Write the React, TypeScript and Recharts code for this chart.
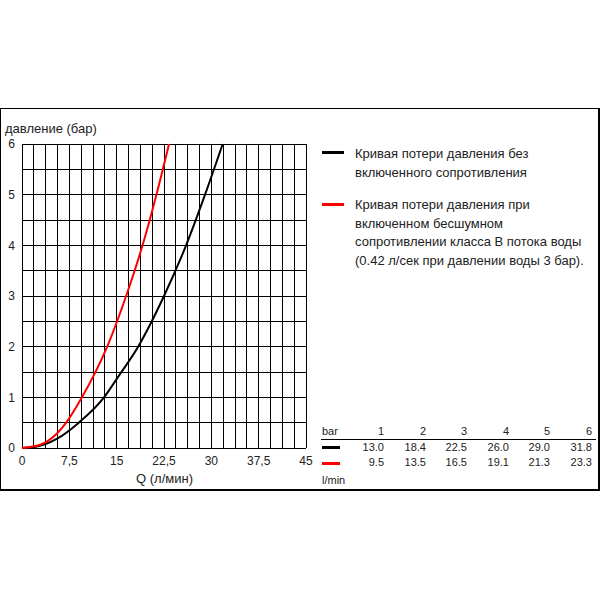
import React from "react";
import { LineChart, Line, XAxis, YAxis, CartesianGrid } from "recharts";

// pressure steps (bar) and flow rates (l/min) from the table
const pressures = [1, 2, 3, 4, 5, 6];
const flowPlain = [13.0, 18.4, 22.5, 26.0, 29.0, 31.8];
const flowSilent = [9.5, 13.5, 16.5, 19.1, 21.3, 23.3];

const lowPlain = [
  { q: 0, p: 0 },
  { q: 2, p: 0.02 },
  { q: 5.5, p: 0.18 },
  { q: 9, p: 0.5 },
  { q: 15.2, p: 1.4 },
];
const lowSilent = [
  { q: 0, p: 0 },
  { q: 3, p: 0.07 },
  { q: 5.5, p: 0.28 },
  { q: 7, p: 0.5 },
];

const xTicks = [0, 7.5, 15, 22.5, 30, 37.5, 45];
const yTicks = [0, 1, 2, 3, 4, 5, 6];
const xGrid = Array.from({ length: 25 }, (_, i) => i * 1.875);
const yGrid = Array.from({ length: 13 }, (_, i) => i * 0.5);

const build = (low, flows) =>
  [...low, ...flows.map((q, i) => ({ q, p: pressures[i] }))].sort((a, b) => a.q - b.q);

const plainData = build(lowPlain, flowPlain);
const silentData = build(lowSilent, flowSilent);

const font = "'Liberation Sans', Arial, sans-serif";
const textColor = "#222";
const colRight = [384, 426, 467, 509, 550, 592];

export default function App() {
  const tick = { fontSize: 12, fill: textColor, fontFamily: font };
  return (
    <div
      style={{
        position: "absolute",
        left: 0,
        top: 0,
        width: 600,
        height: 600,
        background: "#fff",
        fontFamily: font,
        color: textColor,
      }}
    >
      <style>{".recharts-cartesian-grid line{shape-rendering:crispEdges}"}</style>
      <div
        style={{
          position: "absolute",
          left: 0,
          top: 108,
          width: 597,
          height: 380,
          border: "1px solid #000",
          borderRightWidth: 2,
          borderBottomWidth: 2,
        }}
      />
      <div style={{ position: "absolute", left: 5, top: 121, fontSize: 13 }}>давление (бар)</div>
      <div style={{ position: "absolute", left: 136, top: 471, fontSize: 13 }}>Q (л/мин)</div>

      <LineChart
        width={600}
        height={600}
        margin={{ top: 144, right: 294, bottom: 0, left: 0 }}
        style={{ position: "absolute", left: 0, top: 0 }}
      >
        <CartesianGrid
          stroke="#000"
          strokeWidth={1}
          horizontalValues={yGrid}
          verticalValues={xGrid}
        />
        <XAxis
          type="number"
          dataKey="q"
          domain={[0, 45]}
          ticks={xTicks}
          tickFormatter={(v) => String(v).replace(".", ",")}
          axisLine={false}
          tickLine={false}
          tickSize={0}
          tickMargin={8}
          tick={tick}
          height={152}
          interval={0}
        />
        <YAxis
          type="number"
          dataKey="p"
          domain={[0, 6]}
          ticks={yTicks}
          axisLine={false}
          tickLine={false}
          tickSize={0}
          tickMargin={7}
          tick={tick}
          width={22}
          interval={0}
        />
        <Line
          data={plainData}
          dataKey="p"
          type="monotone"
          stroke="#000"
          strokeWidth={2}
          dot={false}
          isAnimationActive={false}
        />
        <Line
          data={silentData}
          dataKey="p"
          type="monotone"
          stroke="#ff0000"
          strokeWidth={2}
          dot={false}
          isAnimationActive={false}
        />
      </LineChart>

      {/* legend */}
      <div style={{ position: "absolute", left: 322, top: 151, width: 22, height: 3, background: "#000" }} />
      <div style={{ position: "absolute", left: 355, top: 145, fontSize: 13, lineHeight: "18.7px" }}>
        Кривая потери давления без
        <br />
        включенного сопротивления
      </div>
      <div style={{ position: "absolute", left: 322, top: 203, width: 22, height: 3, background: "#ff0000" }} />
      <div style={{ position: "absolute", left: 355, top: 196, fontSize: 13, lineHeight: "18.7px" }}>
        Кривая потери давления при
        <br />
        включенном бесшумном
        <br />
        сопротивлении класса B потока воды
        <br />
        (0.42 л/сек при давлении воды 3 бар).
      </div>

      {/* table */}
      <div style={{ position: "absolute", left: 322, top: 425, fontSize: 11 }}>bar</div>
      <div style={{ position: "absolute", left: 321, top: 439, width: 275, height: 1, background: "#000" }} />
      <div style={{ position: "absolute", left: 322, top: 446, width: 18, height: 3, background: "#000" }} />
      <div style={{ position: "absolute", left: 322, top: 462, width: 18, height: 3, background: "#ff0000" }} />
      <div style={{ position: "absolute", left: 322, top: 474, fontSize: 11 }}>l/min</div>
      {pressures.map((p, i) => (
        <React.Fragment key={p}>
          <div style={{ position: "absolute", left: colRight[i] - 40, width: 40, textAlign: "right", top: 425, fontSize: 11 }}>
            {p}
          </div>
          <div style={{ position: "absolute", left: colRight[i] - 40, width: 40, textAlign: "right", top: 441, fontSize: 11 }}>
            {flowPlain[i].toFixed(1)}
          </div>
          <div style={{ position: "absolute", left: colRight[i] - 40, width: 40, textAlign: "right", top: 456, fontSize: 11 }}>
            {flowSilent[i].toFixed(1)}
          </div>
        </React.Fragment>
      ))}
    </div>
  );
}
